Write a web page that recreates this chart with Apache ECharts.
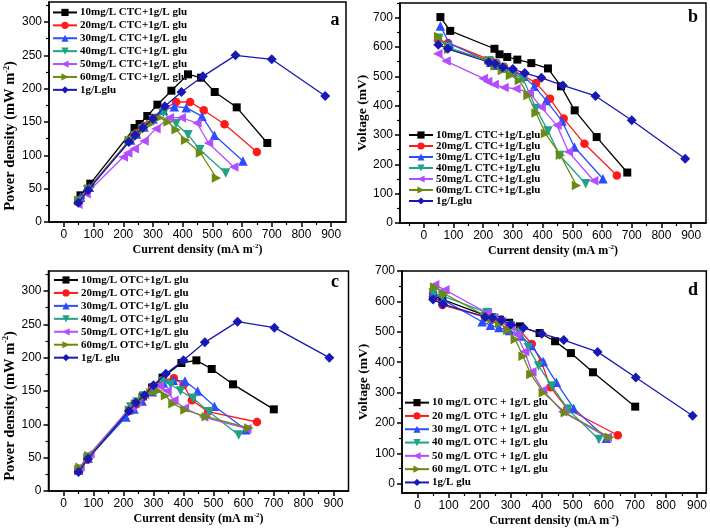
<!DOCTYPE html>
<html><head><meta charset="utf-8">
<script src="https://cdn.jsdelivr.net/npm/echarts@6/dist/echarts.min.js"></script>
<style>html,body{margin:0;padding:0;background:#fff}#c{width:710px;height:531px}</style>
</head><body><div id="c"></div><script>
// ---------- DATA ----------
const xTickValues = [0,100,200,300,400,500,600,700,800,900];
const xMinorValues = [-50,50,150,250,350,450,550,650,750,850,950];

const ctcNamesA = ['10mg/L CTC+1g/L glu','20mg/L CTC+1g/L glu','30mg/L CTC+1g/L glu','40mg/L CTC+1g/L glu','50mg/L CTC+1g/L glu','60mg/L CTC+1g/L glu','1g/Lglu'];
const ctcNamesB = ['10mg/L CTC+1g/Lglu','20mg/L CTC+1g/Lglu','30mg/L CTC+1g/Lglu','40mg/L CTC+1g/Lglu','50mg/L CTC+1g/Lglu','60mg/L CTC+1g/Lglu','1g/Lglu'];
const otcNamesC = ['10mg/L OTC+1g/L glu','20mg/L OTC+1g/L glu','30mg/L OTC+1g/L glu','40mg/L OTC+1g/L glu','50mg/L OTC+1g/L glu','60mg/L OTC+1g/L glu','1g/L glu'];
const otcNamesD = ['10 mg/L OTC + 1g/L glu','20 mg/L OTC + 1g/L glu','30 mg/L OTC + 1g/L glu','40 mg/L OTC + 1g/L glu','50 mg/L OTC + 1g/L glu','60 mg/L OTC + 1g/L glu','1g/L glu'];

// CTC (panels a, b): current density, power density, voltage
const ctc10_I = [56, 89, 238, 255, 281, 315, 362, 418, 462, 508, 582, 685];
const ctc10_P = [40, 57.5, 141, 147, 159, 176, 197, 221.5, 216.5, 195, 172, 118.5];
const ctc10_V = [702, 655, 594, 575, 566, 557, 545, 527, 466, 384, 293, 172];

const ctc20_I = [48, 82, 225, 245, 270, 300, 335, 378, 425, 471, 541, 650];
const ctc20_P = [30, 50, 125, 133.5, 144, 156, 168.5, 180, 180, 167.5, 146.5, 105];
const ctc20_V = [625, 614, 555, 545, 533, 520, 503, 477, 424, 356, 270, 162];

const ctc30_I = [56, 86, 225, 245, 270, 300, 335, 372, 412, 465, 507, 603];
const ctc30_P = [37, 52, 123, 132, 142.5, 154.5, 167.5, 173, 171.5, 158.5, 130, 91.5];
const ctc30_V = [672, 612, 548, 538, 528, 515, 500, 466, 418, 348, 259, 151];

const ctc40_I = [50, 80, 220, 240, 265, 300, 335, 378, 418, 458, 545];
const ctc40_P = [31.5, 48, 121.5, 129.5, 140, 153.5, 164, 147.5, 131, 108.5, 73.5];
const ctc40_V = [630, 600, 552, 540, 528, 512, 490, 390, 314, 230, 134];

const ctc50_I = [47, 75, 200, 215, 237, 270, 310, 355, 395, 448, 487, 572];
const ctc50_P = [26.5, 42.5, 97.5, 103.5, 110, 121.5, 140, 156.5, 156.5, 148.5, 118.5, 82.5];
const ctc50_V = [577, 552, 493, 482, 472, 462, 458, 445, 395, 333, 243, 144];

const ctc60_I = [50, 84, 220, 240, 265, 292, 322, 351, 378, 410, 460, 514];
const ctc60_P = [32, 50, 122, 128, 138, 147, 156.5, 150, 138.5, 122.5, 103.5, 66];
const ctc60_V = [636, 592, 555, 535, 520, 503, 486, 435, 375, 305, 231, 128];

const gluAB_I = [49, 81, 219, 240, 266, 300, 340, 396, 468, 578, 700, 880];
const gluAB_P = [29, 47.5, 120, 130, 141.5, 155, 173.5, 195, 218.5, 250, 244, 189];
const gluAB_V = [608, 594, 548, 543, 531, 525, 511, 495, 469, 433, 350, 219];

// OTC (panels c, d)
const otc10_I = [50, 80, 220, 240, 265, 295, 330, 393, 443, 494, 565, 701];
const otc10_P = [31, 48.5, 121, 131, 142, 155, 170, 192, 196, 183, 160, 122.5];
const otc10_V = [620, 607, 553, 548, 540, 530, 518, 496, 469, 430, 367, 254];

const otc20_I = [50, 80, 220, 240, 265, 295, 330, 368, 400, 428, 482, 645];
const otc20_P = [31, 47, 120.5, 129.5, 141, 154, 166.5, 169, 159, 136, 119, 103.5];
const otc20_V = [625, 588, 548, 540, 532, 522, 505, 460, 398, 318, 247, 160];

const otc30_I = [50, 82, 208, 235, 262, 296, 333, 366, 405, 447, 503, 608];
const otc30_P = [31.5, 49.5, 111, 123, 135, 149, 162, 166, 165, 150, 127, 92];
const otc30_V = [630, 605, 533, 522, 514, 504, 486, 455, 402, 334, 248, 150];

const otc40_I = [50, 80, 224, 245, 268, 298, 330, 357, 390, 432, 485, 584];
const otc40_P = [31.5, 49.5, 126, 133.5, 142.5, 155, 164, 160, 150, 139, 119, 84];
const otc40_V = [628, 618, 563, 545, 532, 520, 497, 448, 388, 322, 245, 146];

const otc50_I = [55, 88, 225, 245, 270, 300, 320, 345, 368, 403, 467, 611];
const otc50_P = [36, 56, 126, 133.5, 144.5, 155, 157, 150, 136, 124.5, 111, 93.5];
const otc50_V = [655, 638, 562, 545, 535, 518, 490, 435, 369, 309, 237, 153];

const otc60_I = [55, 85, 220, 240, 265, 291, 315, 340, 365, 405, 476, 618];
const otc60_P = [35.5, 53, 121, 130, 140, 147, 150, 143, 131, 121.5, 111.5, 94.5];
const otc60_V = [647, 626, 552, 543, 528, 505, 475, 420, 360, 300, 234, 153];

const gluCD_I = [50, 82, 218, 241, 270, 300, 341, 400, 471, 580, 703, 886];
const gluCD_P = [28.5, 48.5, 120, 132.5, 143.5, 158.5, 176, 196, 223, 254, 245, 200];
const gluCD_V = [606, 591, 549, 546, 538, 524, 513, 494, 473, 434, 350, 224];

// ---------- STYLE / LAYOUT ----------
const SERIF = '"Liberation Serif","Times New Roman",serif';
const SANS = '"Liberation Sans",Arial,sans-serif';
const colors = ['#000000','#ff1a1a','#2a4dff','#1fa386','#b44cff','#6b8a12','#1818b4'];
const symbols = ['rect','circle','triangle','triangle','triangle','triangle','diamond'];
const rotates = [0,0,0,180,90,-90,0];
const sizes = [8,8.5,9.5,9.5,9.5,9.5,10];

function range(a,b,s){const r=[];for(let v=a;v<=b+1e-9;v+=s)r.push(v);return r;}
function zip(x,y){return x.map((v,i)=>[v,y[i]]);}

const panels = [
  {grid:{left:49,top:2,width:297,height:220}, xr:[-50,950], yr:[0,330],
   yMaj:range(0,300,50), yMin:range(25,325,50), yName:'{t|Power density (mW m}{s|-2}{t|)}', yFont:14.5, yShift:48, yGap:30,
   names:ctcNamesA, I:[ctc10_I,ctc20_I,ctc30_I,ctc40_I,ctc50_I,ctc60_I,gluAB_I], Y:[ctc10_P,ctc20_P,ctc30_P,ctc40_P,ctc50_P,ctc60_P,gluAB_P],
   legend:{left:52,top:6,lh:12.9}, letter:'a', lp:[335,20]},
  {grid:{left:400,top:3,width:306,height:220}, xr:[-80,950], yr:[0,750],
   yMaj:range(0,700,100), yMin:range(50,750,100), yName:'{t|Voltage (mV)}', yFont:13.5, yShift:0, yGap:28,
   names:ctcNamesB, I:[ctc10_I,ctc20_I,ctc30_I,ctc40_I,ctc50_I,ctc60_I,gluAB_I], Y:[ctc10_V,ctc20_V,ctc30_V,ctc40_V,ctc50_V,ctc60_V,gluAB_V],
   legend:{left:408,top:129.5,lh:11}, letter:'b', lp:[693,17]},
  {grid:{left:48.5,top:271,width:300,height:220}, xr:[-50,950], yr:[0,330],
   yMaj:range(0,300,50), yMin:range(25,325,50), yName:'{t|Power density (mW m}{s|-2}{t|)}', yFont:14.5, yShift:50, yGap:30,
   names:otcNamesC, I:[otc10_I,otc20_I,otc30_I,otc40_I,otc50_I,otc60_I,gluCD_I], Y:[otc10_P,otc20_P,otc30_P,otc40_P,otc50_P,otc60_P,gluCD_P],
   legend:{left:53,top:273.5,lh:12.95}, letter:'c', lp:[335,282]},
  {grid:{left:402,top:271,width:305.5,height:222}, xr:[-50,930], yr:[-30,700],
   yMaj:range(0,700,100), yMin:range(50,650,100), yName:'{t|Voltage (mV)}', yFont:13.5, yShift:0, yGap:30,
   names:otcNamesD, I:[otc10_I,otc20_I,otc30_I,otc40_I,otc50_I,otc60_I,gluCD_I], Y:[otc10_V,otc20_V,otc30_V,otc40_V,otc50_V,otc60_V,gluCD_V],
   legend:{left:404,top:396,lh:13.3}, letter:'d', lp:[693,290]}
];

const grids=[], xAxes=[], yAxes=[], series=[], legends=[], graphics=[];
const axisLine = {onZero:false, lineStyle:{color:'#000', width:1.5}};
const NP = panels.length;
panels.forEach((p,k)=>{
  grids.push(Object.assign({show:true, borderColor:'#000', borderWidth:1.5, backgroundColor:'transparent', containLabel:false}, p.grid));
  xAxes.push({gridIndex:k, type:'value', min:p.xr[0], max:p.xr[1], position:'bottom',
    axisLine:axisLine, splitLine:{show:false},
    axisTick:{inside:false, length:5, customValues:xTickValues, lineStyle:{color:'#000',width:1.5}},
    axisLabel:{customValues:xTickValues, color:'#000', fontSize:12, fontFamily:SANS, margin:7},
    name:'{t|Current density (mA m}{s|-2}{t|)}', nameLocation:'middle', nameGap:21,
    nameTextStyle:{rich:{t:{fontFamily:SERIF,fontWeight:'bold',fontSize:12,color:'#000',lineHeight:14},
                         s:{fontFamily:SERIF,fontWeight:'bold',fontSize:7,color:'#000',verticalAlign:'top',lineHeight:8}}}});
  yAxes.push({gridIndex:k, type:'value', min:p.yr[0], max:p.yr[1], position:'left',
    axisLine:axisLine, splitLine:{show:false},
    axisTick:{inside:false, length:5, customValues:p.yMaj, lineStyle:{color:'#000',width:1.5}},
    axisLabel:{customValues:p.yMaj, color:'#000', fontSize:12, fontFamily:SANS, margin:7},
    name:p.yName, nameLocation:'middle', nameGap:p.yGap, nameRotate:90,
    nameTextStyle:{padding:[0,p.yShift,0,0], rich:{t:{fontFamily:SERIF,fontWeight:'bold',fontSize:p.yFont,color:'#000',lineHeight:16},
                         s:{fontFamily:SERIF,fontWeight:'bold',fontSize:8,color:'#000',verticalAlign:'top',lineHeight:9}}}});
  p.names.forEach((nm,i)=>{
    series.push({type:'line', name:nm, xAxisIndex:k, yAxisIndex:k, data:zip(p.I[i],p.Y[i]),
      symbol:symbols[i], symbolSize:sizes[i], symbolRotate:rotates[i], showAllSymbol:true,
      lineStyle:{color:colors[i], width:1.3}, itemStyle:{color:colors[i]}, animation:false, z:2+i});
  });
  legends.push({show:true, orient:'vertical', left:p.legend.left, top:p.legend.top, padding:0, itemGap:0,
    itemWidth:24, itemHeight:9, selectedMode:false, data:p.names,
    textStyle:{fontFamily:SERIF, fontWeight:'bold', fontSize:11, color:'#000', lineHeight:p.legend.lh, padding:[0,0,0,-2]}});
  graphics.push({type:'text', x:p.lp[0], y:p.lp[1], z:100,
    style:{text:p.letter, font:'bold 18px '+SERIF, fill:'#000', align:'center', verticalAlign:'middle'}});
});
// minor ticks: a second, invisible grid with the same rectangle for each panel
panels.forEach((p,k)=>{
  const xMinors = xMinorValues.filter(v=>v>p.xr[0]&&v<p.xr[1]);
  grids.push(Object.assign({show:false, containLabel:false}, p.grid));
  xAxes.push({gridIndex:NP+k, type:'value', min:p.xr[0], max:p.xr[1], position:'bottom',
    axisLine:{show:false, onZero:false}, splitLine:{show:false}, axisLabel:{show:false},
    axisTick:{show:true, inside:false, length:3, customValues:xMinors, lineStyle:{color:'#000',width:1.2}}});
  yAxes.push({gridIndex:NP+k, type:'value', min:p.yr[0], max:p.yr[1], position:'left',
    axisLine:{show:false, onZero:false}, splitLine:{show:false}, axisLabel:{show:false},
    axisTick:{show:true, inside:false, length:3, customValues:p.yMin, lineStyle:{color:'#000',width:1.2}}});
});

const chart = echarts.init(document.getElementById('c'), null, {renderer:'canvas'});
chart.setOption({animation:false, backgroundColor:'#fff', grid:grids, xAxis:xAxes, yAxis:yAxes, series:series, legend:legends, graphic:graphics});
</script></body></html>
